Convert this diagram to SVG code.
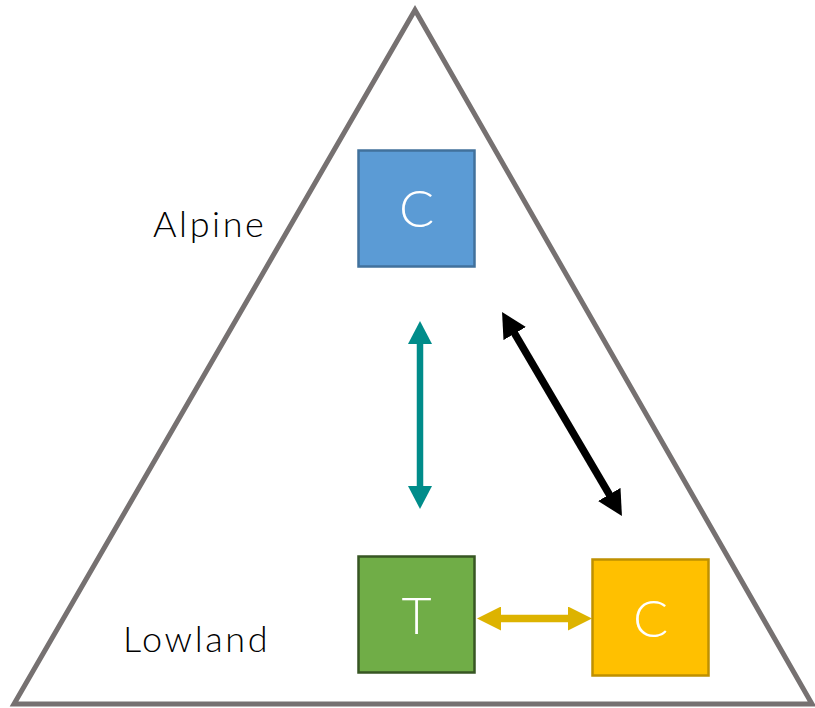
<svg xmlns="http://www.w3.org/2000/svg" width="815" height="708" viewBox="0 0 815 708">
<style>
.lbl{font-family:Lato,"Open Sans","Liberation Sans",sans-serif;font-weight:300;font-size:36px;fill:#000;letter-spacing:2.6px}
.big{font-family:Lato,"Open Sans","Liberation Sans",sans-serif;font-weight:300;font-size:52px;fill:#fff;text-anchor:middle}
</style>
<defs>
<marker id="hTeal" markerUnits="userSpaceOnUse" markerWidth="24" markerHeight="24" refX="2" refY="12" orient="auto-start-reverse"><path d="M0,0 L23,12 L0,24 z" fill="#008C8A"/></marker>
<marker id="hBlack" markerUnits="userSpaceOnUse" markerWidth="26" markerHeight="26" refX="2" refY="13" orient="auto-start-reverse"><path d="M0,0 L25,13 L0,26 z" fill="#000"/></marker>
<marker id="hYellow" markerUnits="userSpaceOnUse" markerWidth="24" markerHeight="24" refX="2" refY="12" orient="auto-start-reverse"><path d="M0,0 L24,12 L0,24 z" fill="#DDB300"/></marker>
</defs>
<polygon id="mountain" points="415,10 14,704 812,704" fill="#fff" stroke="#767171" stroke-width="5" stroke-linejoin="miter"/>
<text class="lbl" x="153" y="237">Alpine</text>
<text class="lbl" x="123" y="652">Lowland</text>
<g id="connectors">
<line x1="420" y1="342" x2="420" y2="488" stroke="#008C8A" stroke-width="6.5" marker-start="url(#hTeal)" marker-end="url(#hTeal)"/>
<line x1="513.7" y1="331.8" x2="610.3" y2="496.2" stroke="#000" stroke-width="7.5" marker-start="url(#hBlack)" marker-end="url(#hBlack)"/>
<line x1="499" y1="618.5" x2="570" y2="618.5" stroke="#DDB300" stroke-width="7.5" marker-start="url(#hYellow)" marker-end="url(#hYellow)"/>
</g>
<g id="alpineC">
<rect x="358.5" y="150.5" width="116" height="116" fill="#5B9BD5" stroke="#41719C" stroke-width="2.5"/>
<text class="big" x="416.5" y="227">C</text>
</g>
<g id="lowlandT">
<rect x="358.5" y="556.5" width="116" height="116" fill="#70AD47" stroke="#375623" stroke-width="2.5"/>
<text class="big" x="416.5" y="634">T</text>
</g>
<g id="lowlandC">
<rect x="592.5" y="559.5" width="116" height="116" fill="#FFC000" stroke="#BF9000" stroke-width="2.5"/>
<text class="big" x="650.5" y="637">C</text>
</g>
</svg>
